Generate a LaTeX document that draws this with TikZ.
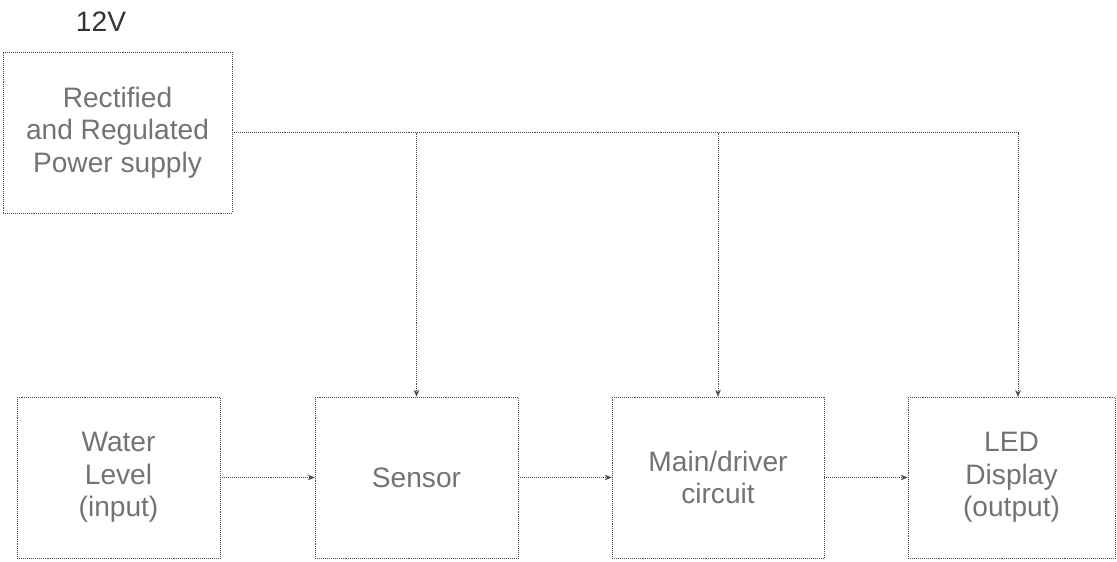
\documentclass[tikz,border=0pt]{standalone}
\usepackage{fontspec}
\setmainfont{Liberation Sans}
\usetikzlibrary{arrows.meta}

\begin{document}
\begin{tikzpicture}[x=0.025cm, y=-0.025cm, >={Stealth[length=5pt,width=4pt]},
  blk/.style={draw=black!70, densely dotted, thin, rectangle, minimum height=4.025cm,
    align=center, text=black!55, font=\fontsize{20}{23}\selectfont},
  wire/.style={draw=black!70, densely dotted, thin}]
  % Frame of the picture
  \useasboundingbox (0,0) rectangle (1117,561);

  % Power supply
  \node[blk, minimum width=5.725cm] (psu) at (117.5,132.5) {Rectified\\and Regulated\\Power supply};
  \node[text=black!80, font=\fontsize{20}{23}\selectfont] (volt) at (101,22) {12V};

  % Chain of blocks
  \node[blk, minimum width=5.075cm] (level) at (118.5,477.5) {Water\\Level\\(input)};
  \node[blk, minimum width=5.075cm] (sensor) at (416.5,477.5) {Sensor};
  \node[blk, minimum width=5.3cm] (driver) at (718,477.5) {Main/driver\\circuit};
  \node[blk, minimum width=5.175cm] (led) at (1011.5,477.5) {LED\\Display\\(output)};

  % Supply bus
  \coordinate (tapA) at (sensor.north |- psu.east);
  \coordinate (tapB) at (driver.north |- psu.east);
  \coordinate (tapC) at (1018,132.5);
  \coordinate (ledin) at (1018,397);
  \draw[wire] (psu.east) -- (tapC);
  \draw[wire, ->] (tapA) -- (sensor.north);
  \draw[wire, ->] (tapB) -- (driver.north);
  \draw[wire, ->] (tapC) -- (ledin);

  % Signal path
  \draw[wire, ->] (level.east) -- (sensor.west);
  \draw[wire, ->] (sensor.east) -- (driver.west);
  \draw[wire, ->] (driver.east) -- (led.west);
\end{tikzpicture}
\end{document}
